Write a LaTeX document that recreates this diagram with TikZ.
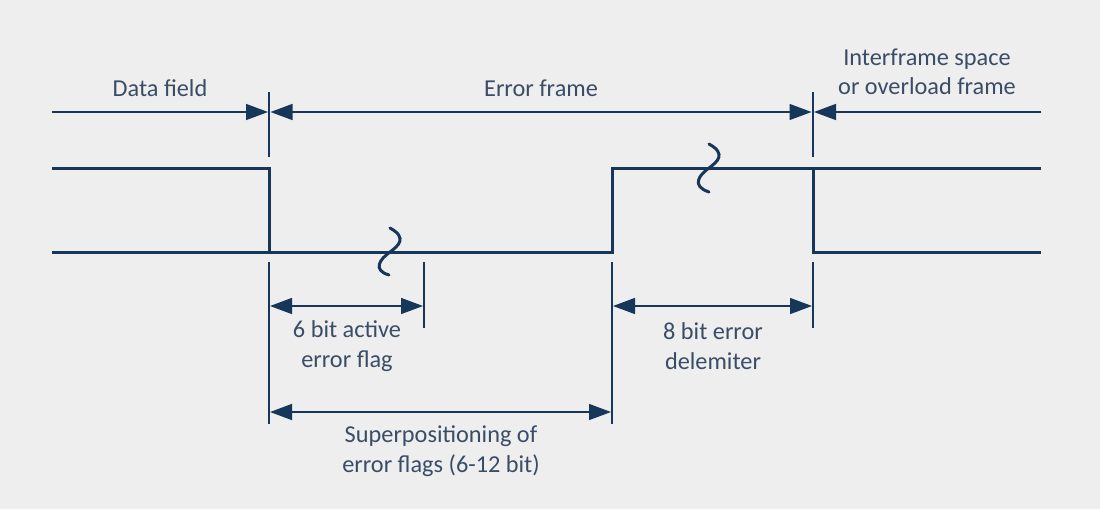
\documentclass[tikz,border=0pt]{standalone}
\usepackage{fontspec}
\setmainfont{Carlito}
\usetikzlibrary{arrows.meta}
\definecolor{navy}{HTML}{17375A}
\definecolor{txt}{HTML}{3A4D66}
\definecolor{bg}{HTML}{EEEEEE}
\begin{document}
\begin{tikzpicture}[x=1pt,y=-1pt,
  sig/.style={navy, line width=3pt, line join=miter},
  tickline/.style={navy, line width=1.5pt},
  dimone/.style={navy, line width=1.5pt, -{Triangle[length=22pt,width=16pt]}},
  dimtwo/.style={navy, line width=1.5pt, {Triangle[length=22pt,width=16pt]}-{Triangle[length=22pt,width=16pt]}},
  lbl/.style={txt, font=\fontsize{24.3}{29.5}\selectfont, align=center, inner sep=0pt},
  wave/.style={navy, line width=3pt, line cap=round}]
\fill[bg] (0,0) rectangle (1100,509);
\useasboundingbox (0,0) rectangle (1100,509);

% coordinates
\coordinate (sigL) at (52,168);
\coordinate (sigLb) at (52,252);
\coordinate (fall1) at (269,168);
\coordinate (fall1b) at (269,252);
\coordinate (rise) at (612,252);
\coordinate (riseT) at (612,168);
\coordinate (fall2) at (813,168);
\coordinate (fall2b) at (813,252);
\coordinate (sigR) at (1041,168);
\coordinate (sigRb) at (1041,252);

% signal
\draw[sig] (sigL) -- (fall1) -- (fall1b);
\draw[sig] (sigLb) -- (rise) -- (riseT) -- (sigR);
\draw[sig] (fall2) -- (fall2b) -- (sigRb);

% break marks
\draw[wave] (390,228) .. controls (408,238) and (398,246) .. (390,252) .. controls (380,259) and (372,270) .. (389,275);
\draw[wave] (709,144) .. controls (727,154) and (717,162) .. (709,168) .. controls (699,175) and (691,186) .. (709,192);

% extension lines
\coordinate (t1a) at (269,92);  \coordinate (t1b) at (269,157);
\coordinate (t2a) at (813,92);  \coordinate (t2b) at (813,157);
\coordinate (b1a) at (269,262); \coordinate (b1b) at (269,424);
\coordinate (b2a) at (424,262); \coordinate (b2b) at (424,328);
\coordinate (b3a) at (612,262); \coordinate (b3b) at (612,424);
\coordinate (b4a) at (813,262); \coordinate (b4b) at (813,328);
\draw[tickline] (t1a) -- (t1b);
\draw[tickline] (t2a) -- (t2b);
\draw[tickline] (b1a) -- (b1b);
\draw[tickline] (b2a) -- (b2b);
\draw[tickline] (b3a) -- (b3b);
\draw[tickline] (b4a) -- (b4b);

% top dimension line
\coordinate (dL) at (52,112);
\coordinate (d1l) at (268,112);
\coordinate (d1r) at (270.5,112);
\coordinate (d2l) at (811.5,112);
\coordinate (d2r) at (814,112);
\coordinate (dR) at (1041,112);
\draw[dimone] (dL) -- (d1l);
\draw[dimtwo] (d1r) -- (d2l);
\draw[dimone] (dR) -- (d2r);

% lower dimension lines
\coordinate (e1l) at (270,306); \coordinate (e1r) at (423,306);
\coordinate (e2l) at (613,306); \coordinate (e2r) at (812,306);
\coordinate (e3l) at (270,412); \coordinate (e3r) at (611,412);
\draw[dimtwo] (e1l) -- (e1r);
\draw[dimtwo] (e2l) -- (e2r);
\draw[dimtwo] (e3l) -- (e3r);

% labels
\node[lbl] (ldata) at (160,88) {Data field};
\node[lbl] (lerr) at (541,88) {Error frame};
\node[lbl] (lifs) at (927,72) {Interframe space\\or overload frame};
\node[lbl] (lflag) at (347,346) {6 bit active\\error flag};
\node[lbl] (ldel) at (713,346) {8 bit error\\delemiter};
\node[lbl] (lsup) at (441,451) {Superpositioning of\\error flags (6-12 bit)};
\end{tikzpicture}
\end{document}
